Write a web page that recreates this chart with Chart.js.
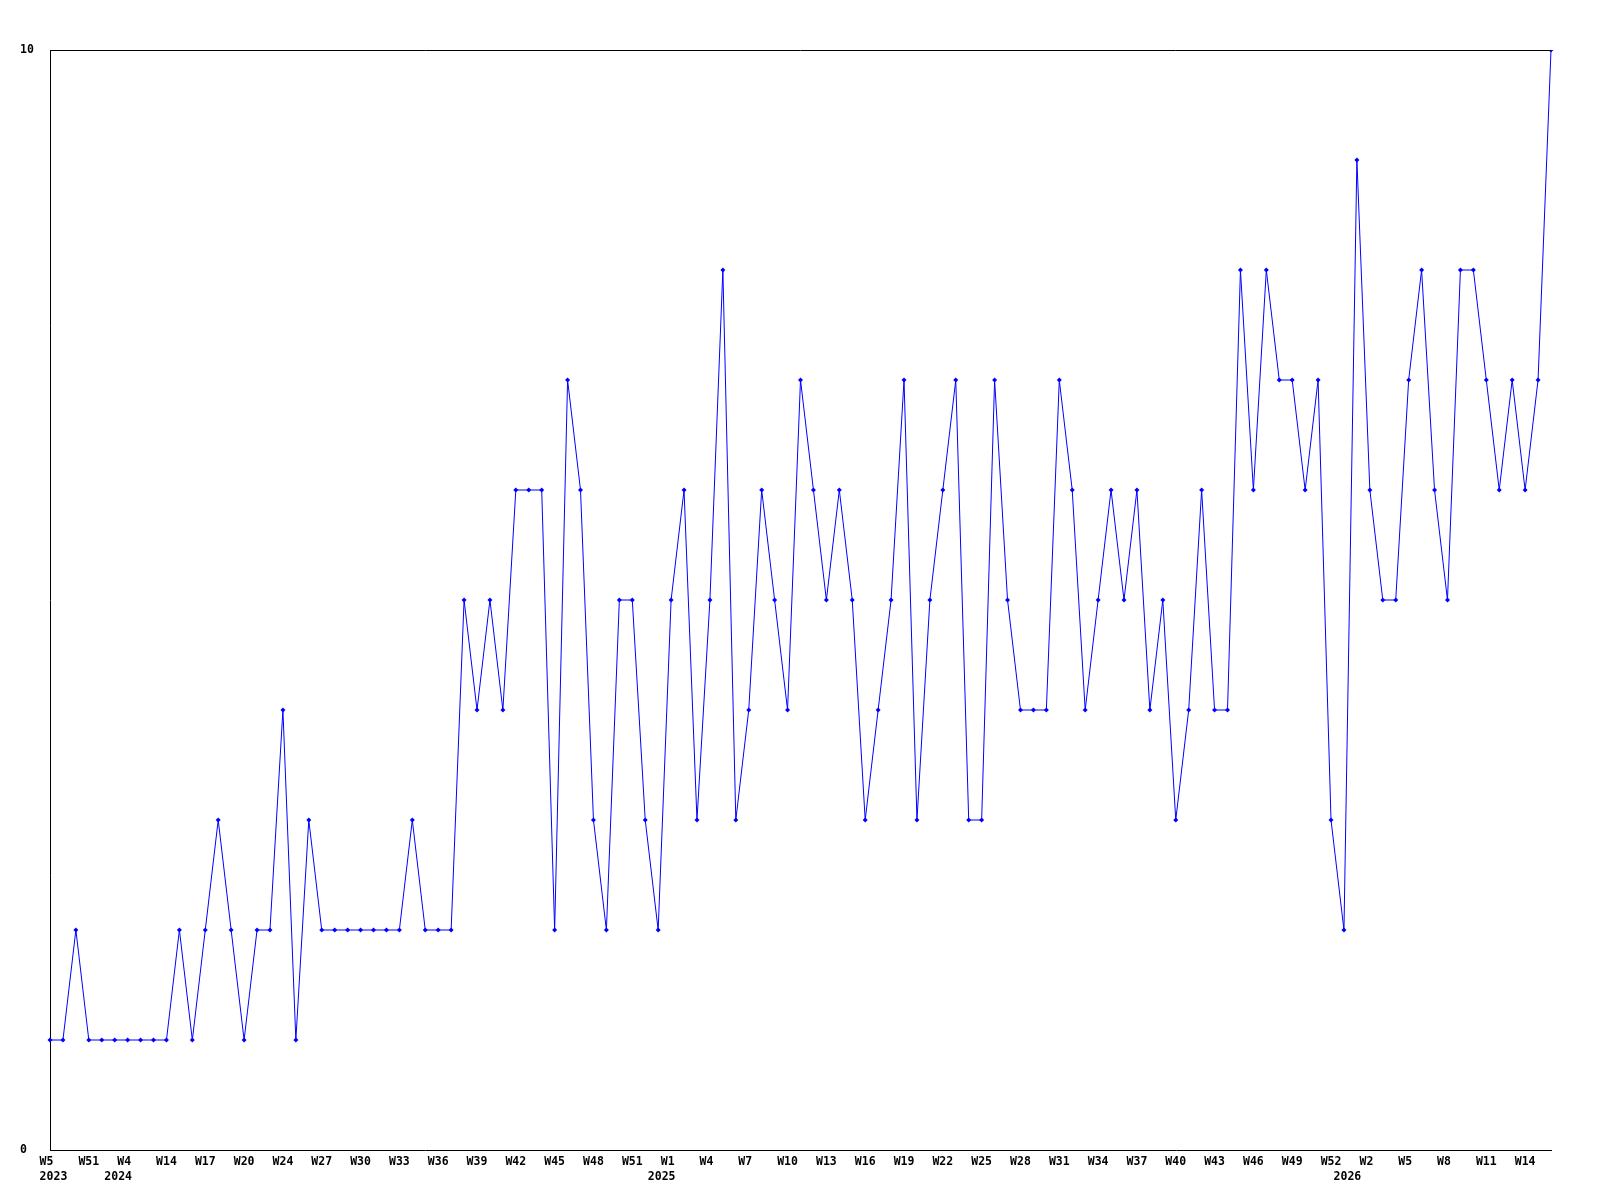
<!DOCTYPE html>
<html>
<head>
<meta charset="utf-8">
<script src="https://cdn.jsdelivr.net/npm/chart.js@4/dist/chart.umd.min.js"></script>
<style>
    html, body { margin: 0; padding: 0; background: #fff; }
    #wrap { width: 1600px; height: 1200px; }
</style>
</head>
<body>
<div id="wrap"><canvas id="chart"></canvas></div>
<script>
// weekly values, one per point
const values = [
    1, 1, 2, 1, 1, 1, 1, 1, 1, 1,
    2, 1, 2, 3, 2, 1, 2, 2, 4, 1,
    3, 2, 2, 2, 2, 2, 2, 2, 3, 2,
    2, 2, 5, 4, 5, 4, 6, 6, 6, 2,
    7, 6, 3, 2, 5, 5, 3, 2, 5, 6,
    3, 5, 8, 3, 4, 6, 5, 4, 7, 6,
    5, 6, 5, 3, 4, 5, 7, 3, 5, 6,
    7, 3, 3, 7, 5, 4, 4, 4, 7, 6,
    4, 5, 6, 5, 6, 4, 5, 3, 4, 6,
    4, 4, 8, 6, 8, 7, 7, 6, 7, 3,
    2, 9, 6, 5, 5, 7, 8, 6, 5, 8,
    8, 7, 6, 7, 6, 7, 10
];

// a week label on every third point
const weekTicks = [
    'W5', 'W51', 'W4', 'W14', 'W17', 'W20', 'W24', 'W27', 'W30', 'W33',
    'W36', 'W39', 'W42', 'W45', 'W48', 'W51', 'W1', 'W4', 'W7', 'W10',
    'W13', 'W16', 'W19', 'W22', 'W25', 'W28', 'W31', 'W34', 'W37', 'W40',
    'W43', 'W46', 'W49', 'W52', 'W2', 'W5', 'W8', 'W11', 'W14'
];

// point index where each year starts
const yearIndex = [0, 5, 47, 100];
const yearText = ['2023', '2024', '2025', '2026'];

const yTicks = [0, 10];

const labels = values.map((v, i) => (i % 3 === 0 ? weekTicks[i / 3] : ''));

const tickFont = { family: '"DejaVu Sans Mono", "Liberation Mono", monospace', size: 11.5, weight: 'bold', lineHeight: 1.2 };

const topLine = {
    id: 'topLine',
    afterDraw(chart) {
        const { ctx, chartArea } = chart;
        ctx.save();
        ctx.strokeStyle = '#000';
        ctx.lineWidth = 1;
        ctx.beginPath();
        ctx.moveTo(chartArea.left, chartArea.top + 0.5);
        ctx.lineTo(chartArea.right, chartArea.top + 0.5);
        ctx.stroke();
        ctx.restore();
    }
};

new Chart(document.getElementById('chart').getContext('2d'), {
    type: 'line',
    data: {
        labels: labels,
        datasets: [{
            data: values,
            borderColor: '#0000ff',
            backgroundColor: '#0000ff',
            borderWidth: 1,
            tension: 0,
            fill: false,
            pointStyle: 'rectRot',
            pointRadius: 2.5,
            pointBorderWidth: 0
        }]
    },
    options: {
        responsive: true,
        maintainAspectRatio: false,
        animation: false,
        layout: { padding: { left: 20, top: 50, right: 49, bottom: 0 } },
        plugins: {
            legend: { display: false },
            tooltip: { enabled: false }
        },
        scales: {
            x: {
                type: 'category',
                offset: false,
                grid: { display: false, drawTicks: false },
                border: { display: true, color: '#000', width: 1 },
                ticks: {
                    autoSkip: false,
                    maxRotation: 0,
                    minRotation: 0,
                    padding: 5,
                    color: '#000',
                    font: tickFont,
                    callback: (value, index) => (labels[index] ? labels[index].padEnd(3) : '')
                },
                afterFit(scale) { scale.height = 20; }
            },
            years: {
                type: 'category',
                position: 'bottom',
                weight: 1,
                offset: false,
                grid: { display: false, drawTicks: false },
                border: { display: false },
                ticks: {
                    autoSkip: false,
                    maxRotation: 0,
                    minRotation: 0,
                    padding: 0,
                    color: '#000',
                    font: tickFont,
                    callback: (value, index) => {
                        const k = yearIndex.indexOf(index);
                        return k >= 0 ? ' ' + yearText[k] : '';
                    }
                },
                afterFit(scale) { scale.height = 30; }
            },
            y: {
                min: yTicks[0],
                max: yTicks[1],
                grid: { display: false, drawTicks: false },
                border: { display: true, color: '#000', width: 1 },
                afterBuildTicks(scale) { scale.ticks = yTicks.map(v => ({ value: v })); },
                ticks: {
                    crossAlign: 'far',
                    color: '#000',
                    font: tickFont
                },
                afterFit(scale) { scale.width = 30; }
            }
        }
    },
    plugins: [topLine]
});
</script>
</body>
</html>
